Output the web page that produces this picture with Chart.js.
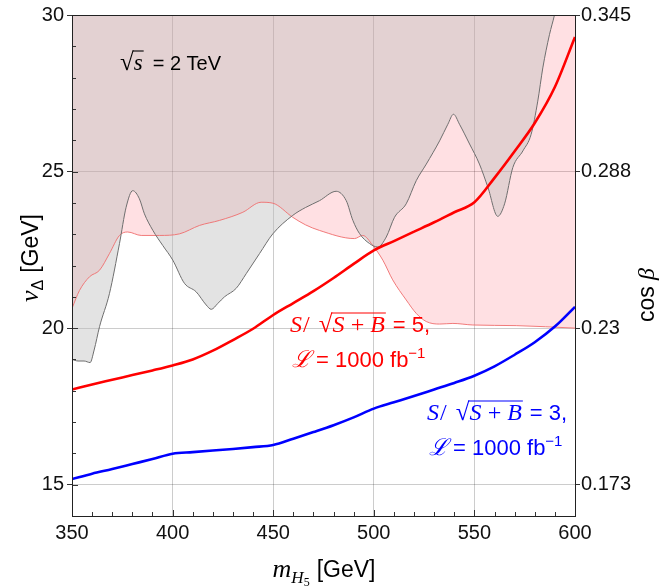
<!DOCTYPE html>
<html>
<head>
<meta charset="utf-8">
<script src="https://cdn.jsdelivr.net/npm/chart.js@4.4.0/dist/chart.umd.min.js"></script>
<style>
  html, body { margin: 0; padding: 0; background: #fff; }
  #wrap { width: 671px; height: 588px; }
</style>
</head>
<body>
<div id="wrap"><canvas id="limitChart" width="671" height="588"></canvas></div>
<script>
// H5 mass grid for the two significance contours
const massGrid = [350, 360, 370, 380, 390, 400, 410, 420, 430, 440, 450, 460, 470,
                  480, 490, 500, 510, 520, 530, 540, 550, 560, 570, 580, 590, 600];
// S/sqrt(S+B) = 5 and = 3 contours (v_Delta in GeV)
const sig5 = [18.04, 18.2, 18.35, 18.5, 18.65, 18.81, 19.0, 19.28, 19.62, 19.98, 20.42, 20.8, 21.18,
              21.6, 22.05, 22.48, 22.78, 23.08, 23.38, 23.7, 24.02, 24.8, 25.65, 26.55, 27.7, 29.3];
const sig3 = [15.18, 15.35, 15.5, 15.66, 15.82, 15.99, 16.04, 16.09, 16.14, 16.2, 16.27, 16.47, 16.68,
              16.9, 17.15, 17.43, 17.63, 17.83, 18.04, 18.25, 18.48, 18.78, 19.15, 19.55, 20.05, 20.68];

// gray excluded region boundary
const grayMass = [350, 353, 356, 359, 361, 363.7, 368.6, 373.6, 376.9, 380.2, 383.5, 386, 390.2, 395.1,
                  400.1, 405.9, 411.7, 416.7, 419.2, 422.5, 425.8, 431.6, 436.6, 443.2, 449.8, 459.7, 466,
                  473, 481.3, 486.3, 489.6, 492.9, 497.9, 502, 506.2, 510.3, 516.1, 521.1, 526.1, 532.7,
                  536.8, 539.6, 542.6, 547.6, 552.5, 556.7, 561.6, 565, 569.1, 574.1, 578.2, 581.5, 584,
                  587.3, 589.8, 593, 600];
const grayV = [19.0, 18.95, 18.95, 18.9, 19.3, 20.05, 21.1, 22.7, 23.86, 24.39, 24.13, 23.65, 23.12, 22.64,
               22.17, 21.43, 21.16, 20.74, 20.6, 20.79, 21.0, 21.27, 21.74, 22.38, 23.01, 23.6, 23.85,
               24.07, 24.37, 24.07, 23.44, 23.02, 22.7, 22.59, 22.91, 23.54, 23.97, 24.71, 25.24, 25.98,
               26.51, 26.83, 26.51, 25.88, 25.24, 24.5, 23.57, 23.97, 25.13, 25.66, 26.19, 27.25, 28.31,
               29.37, 30.0, 31.0, 33.0];

// pink excluded region boundary
const pinkMass = [350, 353.7, 358.7, 363.7, 368.6, 373.6, 377.7, 384.4, 393.5, 403.4, 413.4, 423.3, 434.9,
                  444, 449.8, 459.7, 466, 473, 490.4, 494.5, 499.5, 504.5, 509.4, 516.1, 521.1, 526.1,
                  532.7, 539.3, 549.2, 570.8, 600];
const pinkV = [20.63, 21.2, 21.64, 21.85, 22.38, 22.96, 23.07, 22.96, 22.96, 23.01, 23.28, 23.44, 23.7,
               24.02, 23.99, 23.54, 23.3, 23.12, 22.86, 22.96, 22.64, 22.17, 21.54, 20.9, 20.47, 20.21,
               20.13, 20.15, 20.1, 20.08, 20.0];

const xTicks = [350, 400, 450, 500, 550, 600];
const vTicks = [15, 20, 25, 30];
const cosBetaTicks = ['0.173', '0.23', '0.288', '0.345'];

const SANS = "'Liberation Sans', Arial, sans-serif";
const SERIF = "'Liberation Serif', 'DejaVu Serif', serif";

function pts(xs, ys) { return xs.map((x, i) => ({ x: x, y: ys[i] })); }

function runsWidth(ctx, runs) {
  let w = 0;
  for (const r of runs) { ctx.font = r.font; w += ctx.measureText(r.text).width + (r.gap || 0); }
  return w;
}
function drawRuns(ctx, x, y, runs, color) {
  let cx = x;
  for (const r of runs) {
    ctx.font = r.font;
    ctx.fillStyle = color;
    ctx.fillText(r.text, cx, y + (r.dy || 0));
    const w = ctx.measureText(r.text).width;
    if (r.bar) {
      ctx.strokeStyle = color;
      ctx.lineWidth = 1.1;
      ctx.beginPath();
      ctx.moveTo(cx - 1, y + r.bar);
      ctx.lineTo(cx + w + 1, y + r.bar);
      ctx.stroke();
    }
    cx += w + (r.gap || 0);
  }
}

const labelsPlugin = {
  id: 'labels',
  afterDraw(chart) {
    const ctx = chart.ctx, a = chart.chartArea;
    const xs = chart.scales.x, ys = chart.scales.y;
    ctx.save();
    ctx.textBaseline = 'alphabetic';
    ctx.textAlign = 'left';

    // inward minor ticks
    ctx.strokeStyle = '#333';
    ctx.lineWidth = 1;
    ctx.beginPath();
    for (let m = 360; m < 600; m += 10) {
      const px = Math.round(xs.getPixelForValue(m)) + 0.5;
      ctx.moveTo(px, a.bottom); ctx.lineTo(px, a.bottom - (m % 50 === 0 ? 6 : 4));
    }
    for (let v = 15; v < 30; v += 1) {
      const py = Math.round(ys.getPixelForValue(v)) + 0.5;
      ctx.moveTo(a.left, py); ctx.lineTo(a.left + (v % 5 === 0 ? 6 : 4), py);
    }
    ctx.stroke();

    // frame
    ctx.strokeStyle = '#222';
    ctx.strokeRect(Math.round(a.left) + 0.5, Math.round(a.top) + 0.5,
                   Math.round(a.right - a.left), Math.round(a.bottom - a.top));

    // sqrt(s) = 2 TeV
    drawRuns(ctx, 120, 70, [
      { text: '\u221A', font: `25px ${SERIF}` },
      { text: 's', font: `italic 23px ${SERIF}`, bar: -19, gap: 10 },
      { text: '= 2 TeV', font: `20px ${SANS}` }
    ], '#000');

    // S/sqrt(S+B) = n, L = 1000 fb^-1
    const red = '#ff0000', blue = '#0000ff';
    const sigRuns = n => [
      { text: 'S', font: `italic 24px ${SERIF}`, gap: 1 },
      { text: '/', font: `24px ${SERIF}`, gap: 9 },
      { text: '\u221A', font: `25px ${SERIF}` },
      { text: 'S\u2009+\u2009B', font: `italic 24px ${SERIF}`, bar: -19, gap: 8 },
      { text: '= ' + n + ',', font: `22px ${SANS}` }
    ];
    const lumRuns = [
      { text: '\u2112', font: `italic 23px ${SERIF}`, gap: 5 },
      { text: '= 1000 fb', font: `22px ${SANS}` },
      { text: '\u22121', font: `15px ${SANS}`, dy: -9 }
    ];
    drawRuns(ctx, 290, 332, sigRuns(5), red);
    drawRuns(ctx, 292, 367, lumRuns, red);
    drawRuns(ctx, 427, 420, sigRuns(3), blue);
    drawRuns(ctx, 429, 455, lumRuns, blue);

    // x title
    const xRuns = [
      { text: 'm', font: `italic 26px ${SERIF}` },
      { text: 'H', font: `italic 17px ${SERIF}`, dy: 6 },
      { text: '5', font: `12px ${SERIF}`, dy: 9, gap: 7 },
      { text: '[GeV]', font: `23px ${SANS}` }
    ];
    drawRuns(ctx, 324 - runsWidth(ctx, xRuns) / 2, 577, xRuns, '#000');

    // left title
    const yRuns = [
      { text: 'v', font: `italic 26px ${SERIF}` },
      { text: '\u0394', font: `16px ${SANS}`, dy: 5, gap: 7 },
      { text: '[GeV]', font: `23px ${SANS}` }
    ];
    ctx.save();
    ctx.translate(38, 258);
    ctx.rotate(-Math.PI / 2);
    drawRuns(ctx, -runsWidth(ctx, yRuns) / 2, 0, yRuns, '#000');
    ctx.restore();

    // right title
    const rRuns = [
      { text: 'cos ', font: `23px ${SANS}` },
      { text: '\u03B2', font: `italic 24px ${SERIF}` }
    ];
    ctx.save();
    ctx.translate(654, 295);
    ctx.rotate(-Math.PI / 2);
    drawRuns(ctx, -runsWidth(ctx, rRuns) / 2, 0, rRuns, '#000');
    ctx.restore();

    ctx.restore();
  }
};

const tickFont = { family: SANS, size: 20 };

new Chart(document.getElementById('limitChart'), {
  type: 'line',
  data: {
    datasets: [
      {
        label: 'excluded (gray)',
        data: pts(grayMass, grayV),
        borderColor: '#6e6e6e', borderWidth: 1,
        backgroundColor: 'rgba(188,188,188,0.42)',
        fill: 'end', pointRadius: 0, cubicInterpolationMode: 'monotone', order: 3
      },
      {
        label: 'excluded (pink)',
        data: pts(pinkMass, pinkV),
        borderColor: 'rgba(240,110,110,0.9)', borderWidth: 1,
        backgroundColor: 'rgba(255,0,25,0.122)',
        fill: 'end', pointRadius: 0, cubicInterpolationMode: 'monotone', order: 4
      },
      {
        label: 'S/sqrt(S+B) = 5',
        data: pts(massGrid, sig5),
        borderColor: '#ff0000', borderWidth: 2.6,
        fill: false, pointRadius: 0, cubicInterpolationMode: 'monotone', order: 1
      },
      {
        label: 'S/sqrt(S+B) = 3',
        data: pts(massGrid, sig3),
        borderColor: '#0000ff', borderWidth: 2.6,
        fill: false, pointRadius: 0, cubicInterpolationMode: 'monotone', order: 1
      }
    ]
  },
  options: {
    responsive: false,
    animation: false,
    layout: { padding: { top: 13 } },
    plugins: {
      legend: { display: false },
      tooltip: { enabled: false },
      filler: { drawTime: 'beforeDatasetsDraw' }
    },
    scales: {
      x: {
        type: 'linear', min: 350, max: 600,
        afterBuildTicks: s => { s.ticks = xTicks.map(v => ({ value: v })); },
        afterFit: s => { s.height = 72; },
        grid: { color: 'rgba(0,0,0,0.2)', drawTicks: false },
        border: { display: false },
        ticks: { font: tickFont, color: '#111', padding: 5, maxRotation: 0 }
      },
      y: {
        position: 'left', min: 14, max: 30,
        afterBuildTicks: s => { s.ticks = vTicks.map(v => ({ value: v })); },
        afterFit: s => { s.width = 72; },
        grid: { color: 'rgba(0,0,0,0.2)', tickColor: '#333', tickLength: 5 },
        border: { display: false },
        ticks: { font: tickFont, color: '#111', padding: 3 }
      },
      y2: {
        position: 'right', min: 14, max: 30,
        afterBuildTicks: s => { s.ticks = vTicks.map(v => ({ value: v })); },
        afterFit: s => { s.width = 96; },
        grid: { drawOnChartArea: false, tickColor: '#333', tickLength: 5 },
        border: { display: false },
        ticks: { font: tickFont, color: '#111', padding: 1,
                 callback: (v, i) => cosBetaTicks[i] }
      }
    }
  },
  plugins: [labelsPlugin]
});
</script>
</body>
</html>
